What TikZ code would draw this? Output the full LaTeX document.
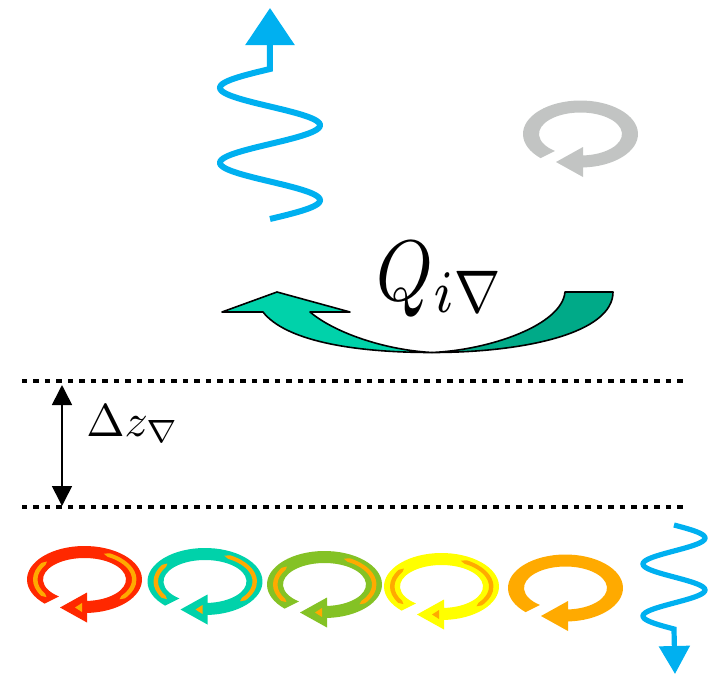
\documentclass[tikz,border=0pt]{standalone}
\usepackage{graphicx}
\usepackage{tikz}
\usetikzlibrary{arrows.meta}

\definecolor{wavecol}{RGB}{0,176,240}
\definecolor{ringred}{RGB}{255,40,0}
\definecolor{ringteal}{RGB}{0,210,170}
\definecolor{ringgreen}{RGB}{132,194,37}
\definecolor{ringyellow}{RGB}{255,255,0}
\definecolor{ringorange}{RGB}{255,170,0}
\definecolor{ringgray}{RGB}{194,196,195}
\definecolor{qlight}{RGB}{0,210,170}
\definecolor{qdark}{RGB}{0,170,136}

\begin{document}
\begin{tikzpicture}[
  x=0.5pt, y=-0.5pt,
  layer/.style={line width=2.4pt, dash pattern=on 2.6pt off 3.15pt},
  dzarrow/.style={line width=0.8pt, {Triangle[length=10pt,width=10pt]}-{Triangle[length=10pt,width=10pt]}},
  wavy/.style={draw=wavecol, line width=3pt},
  flux/.style={draw=black, line width=0.8pt, line join=round},
  stripe/.style={fill=ringorange}
]
\useasboundingbox (0,0) rectangle (709,675);

% wave leaving upwards
\coordinate (uptip) at (270,8);
\draw[wavy, -{Triangle[length=18.5pt,width=24pt]}]
  plot[domain=219:69, samples=120, variable=\t] ({270-50*sin(4.8*(\t-69))}, {\t}) -- (uptip);

% wave leaving downwards
\coordinate (downtip) at (675,674);
\draw[wavy, line width=2.6pt, -{Triangle[length=14pt,width=15pt]}]
  plot[domain=525:629, samples=120, variable=\t] ({674+31*sin(6.923*(\t-525))}, {\t}) -- (downtip);

% swirls
\foreach \cx/\cy/\col in {580.5/134/ringgray, 84.5/579.5/ringred, 205/581.5/ringteal,
    324.5/584.5/ringgreen, 441.5/586.5/ringyellow, 565.5/588/ringorange}{
  \begin{scope}[shift={(\cx,\cy)}]
    \fill[\col] (134:57.5 and 33.5)
      arc[start angle=134, end angle=447.5, x radius=57.5, y radius=33.5]
      -- (2.5,43) -- (-24.5,28) -- (2.5,13) -- (446.5:41.5 and 21.5)
      arc[start angle=446.5, end angle=128, x radius=41.5, y radius=21.5] -- cycle;
  \end{scope}
}
\foreach \cx/\cy in {84.5/579.5, 205/581.5, 324.5/584.5, 441.5/586.5}{
  \begin{scope}[shift={(\cx,\cy)}]
    \fill[stripe] (141:49 and 28) -- (147:51.5 and 30)
      arc[start angle=147, end angle=214, x radius=51.5, y radius=30]
      -- (220:49 and 28) -- (214:47 and 26)
      arc[start angle=214, end angle=147, x radius=47, y radius=26] -- cycle;
    \fill[stripe] (293:49.5 and 28) -- (299:52 and 30)
      arc[start angle=299, end angle=399, x radius=52, y radius=30]
      -- (405:49.5 and 28) -- (399:47.5 and 26)
      arc[start angle=399, end angle=299, x radius=47.5, y radius=26] -- cycle;
    \fill[stripe] (-9.5,28) -- (-2.5,23.5) -- (-2.5,32.5) -- cycle;
  \end{scope}
}

% curved flux arrow
\coordinate (fluxlow) at (432,352.5);
\filldraw[flux, fill=qdark] (565,292) -- (613,292)
  .. controls (613,333) and (525,352.5) .. (fluxlow)
  .. controls (490,350) and (562,325) .. cycle;
\filldraw[flux, fill=qlight] (263,312) -- (222,312) -- (277,292) -- (350,312) -- (310,312)
  .. controls (335,333) and (385,350) .. (fluxlow)
  .. controls (350,352.5) and (285,340) .. cycle;
\node (qlabel) at (441,279) {\scalebox{3.6}[4.3]{$Q_{i\nabla}$}};

% layer boundaries
\coordinate (upL) at (22,381);
\coordinate (upR) at (687,381);
\coordinate (loL) at (22,507);
\coordinate (loR) at (687,507);
\draw[layer] (upL) -- (upR);
\draw[layer] (loL) -- (loR);

\coordinate (dztop) at (62,385);
\coordinate (dzbot) at (62,506);
\draw[dzarrow] (dztop) -- (dzbot);
\node[anchor=base west, inner sep=0pt] (dzlabel) at (86,436) {\scalebox{2.3}{$\Delta z_{\nabla}$}};
\end{tikzpicture}
\end{document}
